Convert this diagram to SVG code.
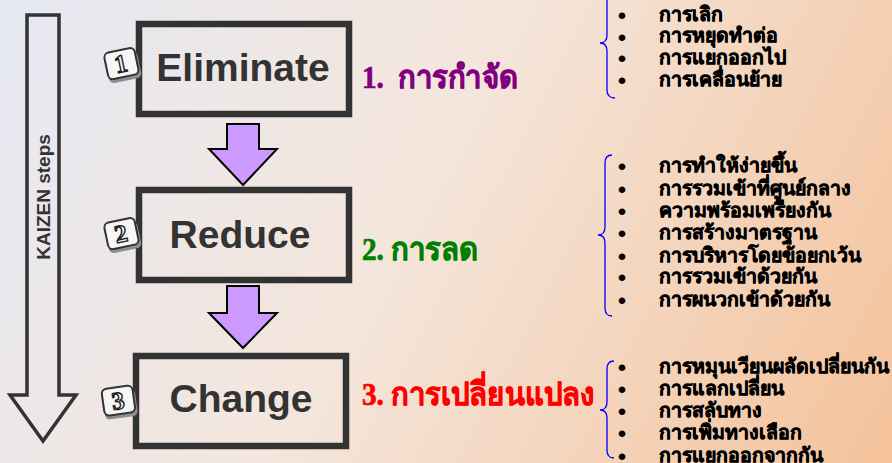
<svg xmlns="http://www.w3.org/2000/svg" width="892" height="463" viewBox="0 0 892 463">
<defs>
<linearGradient id="bg" x1="0" y1="0" x2="892" y2="463" gradientUnits="userSpaceOnUse">
<stop offset="0" stop-color="#E6E9F4"/>
<stop offset="0.45" stop-color="#F4E6DC"/>
<stop offset="1" stop-color="#F4C29A"/>
</linearGradient>
<style>
.box{fill:none;stroke:#333;stroke-width:6.5}
.step{font-family:"Liberation Sans",Arial,sans-serif;font-weight:bold;font-size:39px;fill:#333;text-anchor:middle}
.pa{fill:#CC99FF;stroke:#000;stroke-width:2;stroke-linejoin:miter}
.badge{fill:#F6F6F6;stroke:#333;stroke-width:2}
.bshadow{fill:#8E8E8E}
.bnum{font-family:"Liberation Serif","Times New Roman",serif;font-weight:bold;font-size:25px;fill:#F6F6F6;stroke:#222;stroke-width:1.4;text-anchor:middle}
.title{font-family:"Liberation Serif","Times New Roman",serif;font-weight:bold;font-size:32px;stroke-width:0.7}
.brace{fill:none;stroke:#0000FF;stroke-width:1.3}
.item{font-family:"Liberation Sans",Arial,sans-serif;font-weight:bold;font-size:19.5px;fill:#000;stroke:#000;stroke-width:0.55}
.bul{font-family:"Liberation Sans",Arial,sans-serif;font-size:17px;fill:#000;stroke:#000;stroke-width:2;text-anchor:middle}
</style>
</defs>
<rect width="892" height="463" fill="url(#bg)"/>

<g id="kaizen-arrow">
<path d="M27,15 H59 V395 H76 L43,441 L10,395 H27 Z" fill="none" stroke="#333" stroke-width="3.5" stroke-linejoin="miter"/>
<text transform="translate(50,197) rotate(-90)" x="0" y="0" font-family="Liberation Sans,Arial,sans-serif" font-weight="bold" font-size="19" fill="#333" text-anchor="middle">KAIZEN steps</text>
</g>

<g id="connectors">
<path class="pa" d="M227,124 H259 V149 H277 L243,185 L209,149 H227 Z"/>
<path class="pa" d="M227,286 H259 V313 H277 L243,348 L209,313 H227 Z"/>
</g>

<g id="node-eliminate">
<rect class="box" x="139" y="24" width="210" height="90"/>
<text class="step" x="243" y="81">Eliminate</text>
<g transform="translate(122,64) rotate(-12)">
<rect class="bshadow" x="-16" y="-10" width="33" height="27" rx="5"/>
<rect class="badge" x="-16" y="-14" width="31" height="27" rx="5"/>
<text class="bnum" x="-1" y="8">1</text>
</g>
</g>

<g id="node-reduce">
<rect class="box" x="139" y="190" width="210" height="90"/>
<text class="step" x="240" y="248">Reduce</text>
<g transform="translate(122,234) rotate(-12)">
<rect class="bshadow" x="-16" y="-10" width="33" height="27" rx="5"/>
<rect class="badge" x="-16" y="-14" width="31" height="27" rx="5"/>
<text class="bnum" x="-1" y="8">2</text>
</g>
</g>

<g id="node-change">
<rect class="box" x="136" y="356" width="210" height="90"/>
<text class="step" x="241" y="412">Change</text>
<g transform="translate(119,401) rotate(-8)">
<rect class="bshadow" x="-16" y="-10" width="33" height="27" rx="5"/>
<rect class="badge" x="-16" y="-14" width="31" height="27" rx="5"/>
<text class="bnum" x="-1" y="8">3</text>
</g>
</g>

<g id="title-1">
<text class="title" x="362" y="88" fill="#800080" stroke="#800080" xml:space="preserve" textLength="156" lengthAdjust="spacingAndGlyphs">1.  การกำจัด</text>
</g>
<g id="title-2">
<text class="title" x="362" y="260" fill="#008000" stroke="#008000" textLength="116" lengthAdjust="spacingAndGlyphs">2. การลด</text>
</g>
<g id="title-3">
<text class="title" x="362" y="405" fill="#FF0000" stroke="#FF0000" textLength="233" lengthAdjust="spacingAndGlyphs">3. การเปลี่ยนแปลง</text>
</g>

<g id="list-1">
<path class="brace" d="M615,-12 Q607,-12 607,-4 V35 Q607,43 600,43 Q607,43 607,51 V90 Q607,98 615,98"/>
<text class="bul" x="622" y="21">•</text>
<text class="bul" x="622" y="43">•</text>
<text class="bul" x="622" y="64">•</text>
<text class="bul" x="622" y="86">•</text>
<text class="item" x="659" y="21">การเลิก</text>
<text class="item" x="659" y="42">การหยุดทำต่อ</text>
<text class="item" x="659" y="64">การแยกออกไป</text>
<text class="item" x="659" y="86">การเคลื่อนย้าย</text>
</g>

<g id="list-2">
<path class="brace" d="M612,155 Q605,155 605,163 V227 Q605,235 598,235 Q605,235 605,243 V308 Q605,316 612,316"/>
<text class="bul" x="622" y="172">•</text>
<text class="bul" x="622" y="195">•</text>
<text class="bul" x="622" y="217">•</text>
<text class="bul" x="622" y="239">•</text>
<text class="bul" x="622" y="262">•</text>
<text class="bul" x="622" y="283">•</text>
<text class="bul" x="622" y="306">•</text>
<text class="item" x="659" y="172">การทำให้ง่ายขึ้น</text>
<text class="item" x="659" y="195">การรวมเข้าที่ศูนย์กลาง</text>
<text class="item" x="659" y="217">ความพร้อมเพรียงกัน</text>
<text class="item" x="659" y="239">การสร้างมาตรฐาน</text>
<text class="item" x="659" y="262">การบริหารโดยข้อยกเว้น</text>
<text class="item" x="659" y="283">การรวมเข้าด้วยกัน</text>
<text class="item" x="659" y="306">การผนวกเข้าด้วยกัน</text>
</g>

<g id="list-3">
<path class="brace" d="M614,361 Q607,361 607,369 V402 Q607,410 600,410 Q607,410 607,418 V450 Q607,458 614,458"/>
<text class="bul" x="622" y="373">•</text>
<text class="bul" x="622" y="395">•</text>
<text class="bul" x="622" y="417">•</text>
<text class="bul" x="622" y="439">•</text>
<text class="bul" x="622" y="462">•</text>
<text class="item" x="659" y="373">การหมุนเวียนผลัดเปลี่ยนกัน</text>
<text class="item" x="659" y="395">การแลกเปลี่ยน</text>
<text class="item" x="659" y="417">การสลับทาง</text>
<text class="item" x="659" y="439">การเพิ่มทางเลือก</text>
<text class="item" x="659" y="462">การแยกออกจากกัน</text>
</g>
</svg>
